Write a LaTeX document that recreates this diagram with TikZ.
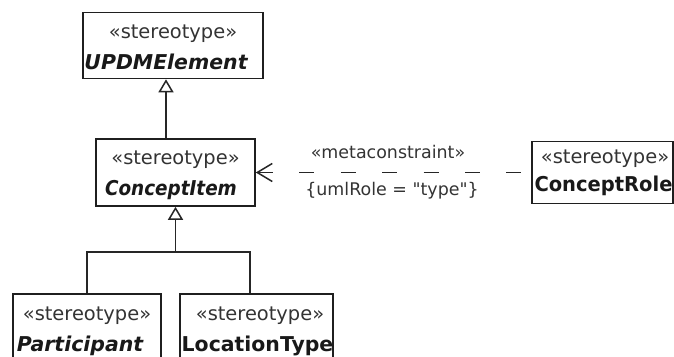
\documentclass[tikz,border=0pt]{standalone}
\usepackage{fontspec}
\setmainfont{DejaVu Sans}[Ligatures=TeXOff]
\usetikzlibrary{arrows.meta,calc}
\begin{document}
\begin{tikzpicture}[x=1bp,y=-1bp,
  box/.style={draw=black!88, line width=1.6bp, fill=white, inner sep=0pt},
  st/.style={anchor=base, font=\fontsize{19.5}{21}\selectfont, text=black!80, inner sep=0pt},
  nm/.style={anchor=base, font=\fontsize{20.5}{22}\selectfont\bfseries, text=black!90, inner sep=0pt},
  nmi/.style={anchor=base, font=\fontsize{20.5}{22}\selectfont\bfseries\itshape, text=black!90, inner sep=0pt},
  lab/.style={anchor=base, font=\fontsize{17.5}{19}\selectfont, text=black!80, inner sep=0pt},
  conn/.style={draw=black!85, line width=1.5bp},
  gen/.style={conn, -{Triangle[open, length=13bp, width=15bp, fill=white]}},
  dep/.style={conn, {Straight Barb[length=15bp,width=18bp]}-, dash pattern=on 15bp off 26.4bp}
]
\fill[white] (0,0) rectangle (674,356);
\useasboundingbox (0,0) rectangle (674,356);

% boxes
\node[box, minimum width=180bp, minimum height=66bp] (updm) at (173,45.5) {};
\node[st] (updmS) at (173,38) {«stereotype»};
\node[nmi] (updmN) at (166,69) {UPDMElement};

\node[box, minimum width=159bp, minimum height=67bp] (ci) at (175.5,172.5) {};
\node[st] (ciS) at (175.5,164) {«stereotype»};
\node[nmi] (ciN) at (171,195) {\scalebox{0.9}[1]{ConceptItem}};

\node[box, minimum width=141bp, minimum height=62bp] (cr) at (602.5,172.5) {};
\node[st] (crS) at (605,163) {«stereotype»};
\node[nm] (crN) at (603.5,191) {\scalebox{0.955}[1]{ConceptRole}};

\node[box, minimum width=148bp, minimum height=76bp] (part) at (87,332) {};
\node[st] (partS) at (87,320) {«stereotype»};
\node[nmi] (partN) at (80,351) {Participant};

\node[box, minimum width=153bp, minimum height=76bp] (loc) at (256.5,332) {};
\node[st] (locS) at (260,320) {«stereotype»};
\node[nm] (locN) at (257.5,351) {LocationType};

% generalizations
\draw[gen] ($(ci.north)+(-9.5,0)$) -- ($(updm.south)+(-7,0)$);
\coordinate (j) at (175.5,252);
\draw[gen] (j) -- (ci.south);
\draw[conn] (part.north) |- (j) -| ($(loc.north)+(-6.5,0)$);

% dependency
\draw[dep] (ci.east) -- (cr.west);
\node[lab] (mc) at (388,158) {«metaconstraint»};
\node[lab] (role) at (392,195) {\{umlRole = "type"\}};
\end{tikzpicture}
\end{document}
